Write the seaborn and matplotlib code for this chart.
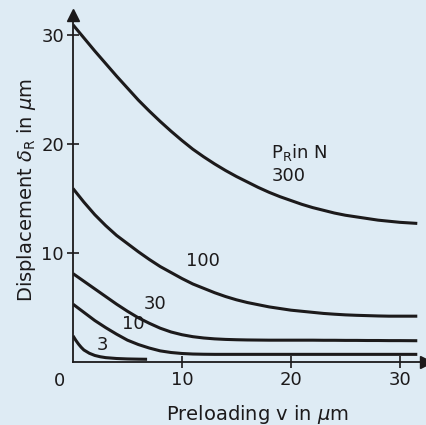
import numpy as np
import pandas as pd
import seaborn as sns
import matplotlib.pyplot as plt

# preloading v (µm) and radial displacement (µm), per load P_R in N
v_grid = [0, 1, 2, 3, 4, 5, 6, 7, 8, 9, 10, 11, 12, 13, 14, 15, 16, 17, 18, 19, 20,
          21, 22, 23, 24, 25, 26, 27, 28, 29, 30, 31.6]
d_300 = [30.9, 29.7, 28.5, 27.35, 26.2, 25.1, 24.0, 23.0, 22.05, 21.15, 20.3, 19.5,
         18.8, 18.15, 17.55, 17.0, 16.5, 16.0, 15.55, 15.15, 14.8, 14.45, 14.15, 13.9,
         13.65, 13.45, 13.3, 13.15, 13.0, 12.9, 12.8, 12.7]
d_100 = [15.9, 14.65, 13.5, 12.5, 11.6, 10.85, 10.1, 9.4, 8.75, 8.2, 7.65, 7.15, 6.75,
         6.35, 6.0, 5.7, 5.45, 5.25, 5.05, 4.9, 4.75, 4.65, 4.55, 4.45, 4.38, 4.32, 4.28,
         4.25, 4.22, 4.2, 4.2, 4.2]
d_30 = [8.1, 7.4, 6.7, 6.0, 5.3, 4.65, 4.05, 3.55, 3.1, 2.75, 2.5, 2.32, 2.2, 2.12, 2.07,
        2.04, 2.02, 2.01, 2.0, 2.0, 2.0, 2.0, 2.0, 1.99, 1.99, 1.98, 1.98, 1.97, 1.97,
        1.96, 1.96, 1.95]
d_10 = [5.3, 4.55, 3.8, 3.15, 2.55, 2.0, 1.6, 1.28, 1.02, 0.87, 0.78, 0.73, 0.71, 0.7,
        0.7, 0.7, 0.7, 0.7, 0.7, 0.7, 0.7, 0.7, 0.7, 0.7, 0.7, 0.7, 0.7, 0.7, 0.7, 0.7,
        0.7, 0.7]
v_3 = [0, 0.25, 0.5, 0.75, 1.0, 1.5, 2.0, 2.5, 3.0, 4.0, 5.0, 6.0, 6.8]
d_3 = [2.4, 2.0, 1.65, 1.35, 1.1, 0.8, 0.6, 0.48, 0.4, 0.32, 0.28, 0.26, 0.25]

loads = ["300", "100", "30", "10", "3"]
label_x = [18.2, 10.4, 6.5, 4.5, 2.2]
label_y = [17.0, 9.3, 5.3, 3.5, 1.55]

frames = []
for name, vv, dd in [("300", v_grid, d_300), ("100", v_grid, d_100), ("30", v_grid, d_30),
                     ("10", v_grid, d_10), ("3", v_3, d_3)]:
    frames.append(pd.DataFrame({"v": vv, "d": dd, "load": name}))
df = pd.concat(frames, ignore_index=True)

sns.set_theme(style="ticks")
bg = "#deebf4"
ink = "#1c1a1b"
plt.rcParams["font.family"] = ["DejaVu Sans"]

fig = plt.figure(figsize=(4.26, 4.25), dpi=100, facecolor=bg)
ax = fig.add_axes([73 / 426, 63 / 425, 353 / 426, 347 / 425])
ax.set_facecolor(bg)

sns.lineplot(data=df, x="v", y="d", hue="load", palette=[ink] * 5,
             linewidth=2.2, legend=False, sort=False, estimator=None, ax=ax,
             solid_joinstyle="round", solid_capstyle="butt")

ax.set_xlim(0, 32.4)
ax.set_ylim(0, 31.8)
ax.set_xticks([10, 20, 30])
ax.set_yticks([10, 20, 30])
ax.tick_params(direction="inout", length=9, width=1.2, colors=ink,
               labelsize=13, pad=2)
for s in ["top", "right"]:
    ax.spines[s].set_visible(False)
for s in ["left", "bottom"]:
    ax.spines[s].set_linewidth(1.3)
    ax.spines[s].set_color(ink)

# axis arrows
ax.plot(1, 0, ">", color=ink, markersize=9, transform=ax.get_yaxis_transform(), clip_on=False)
ax.plot(0, 1, "^", color=ink, markersize=9, transform=ax.get_xaxis_transform(), clip_on=False)

ax.text(-1.2, -0.9, "0", ha="center", va="top", fontsize=13, color=ink, clip_on=False)

for name, lx, ly in zip(loads, label_x, label_y):
    ax.text(lx, ly, name, ha="left", va="center", fontsize=13, color=ink)
ax.text(18.2, 19.2, r"P$_\mathrm{R}$in N", ha="left", va="center", fontsize=13, color=ink)

ax.set_xlabel(r"Preloading v in $\mu$m", fontsize=14, color=ink)
ax.set_ylabel(r"Displacement $\delta_\mathrm{R}$ in $\mu$m", fontsize=14, color=ink)
ax.xaxis.set_label_coords(0.523, -0.118)
ax.yaxis.set_label_coords(-0.10, 0.496)

fig.savefig("out.png", dpi=100, facecolor=bg)
